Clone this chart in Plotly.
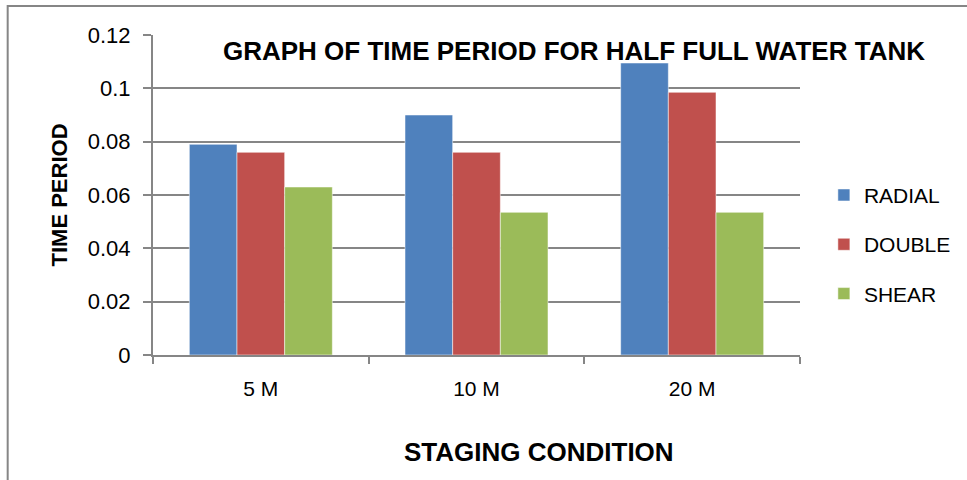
import plotly.graph_objects as go

categories = ["5 M", "10 M", "20 M"]
radial = [0.079, 0.090, 0.1095]
double = [0.076, 0.076, 0.0985]
shear = [0.063, 0.0535, 0.0535]

y_ticks = [0, 0.02, 0.04, 0.06, 0.08, 0.1, 0.12]
y_tick_text = ["0", "0.02", "0.04", "0.06", "0.08", "0.1", "0.12"]

FONT = "Liberation Sans, Arial, sans-serif"

fig = go.Figure()
for name, vals, color in [
    ("RADIAL", radial, "#4F81BD"),
    ("DOUBLE", double, "#C0504D"),
    ("SHEAR", shear, "#9BBB59"),
]:
    fig.add_trace(go.Bar(
        x=categories, y=vals, name=name, legendgroup=name,
        marker=dict(color=color, line=dict(color="rgba(255,255,255,0.5)", width=1)),
    ))

fig.update_layout(
    width=967, height=480,
    margin=dict(l=153, r=167, t=35, b=125, autoexpand=False),
    paper_bgcolor="white", plot_bgcolor="white",
    barmode="group", bargap=0.337, bargroupgap=0,
    font=dict(family=FONT, color="#000000", size=20),
    showlegend=True,
    legend=dict(
        xref="container", yref="container",
        x=0.852, y=0.491, xanchor="left", yanchor="middle",
        font=dict(family=FONT, size=21),
        itemwidth=30, tracegroupgap=19,
        bgcolor="rgba(0,0,0,0)",
    ),
    xaxis=dict(
        automargin=False,
        showline=True, linecolor="#868686", linewidth=2,
        ticks="outside", ticklen=7, tickcolor="#868686", tickwidth=2,
        tickson="boundaries", ticklabelstandoff=14,
        tickfont=dict(family=FONT, size=21),
    ),
    yaxis=dict(
        automargin=False,
        range=[0, 0.12], tickvals=y_ticks, ticktext=y_tick_text,
        showline=True, linecolor="#868686", linewidth=2,
        ticks="outside", ticklen=8, tickcolor="#868686", tickwidth=2,
        showgrid=True, gridcolor="#868686", gridwidth=2,
        zeroline=False, ticklabelstandoff=8,
        tickfont=dict(family=FONT, size=22),
        title=dict(text="<b>TIME PERIOD</b>", standoff=14,
                   font=dict(family=FONT, size=22)),
    ),
    annotations=[
        dict(
            text="<b>GRAPH OF TIME PERIOD FOR HALF FULL WATER TANK</b>",
            xref="paper", yref="paper", x=0.651, y=0.95,
            xanchor="center", yanchor="middle", showarrow=False,
            font=dict(family=FONT, size=26, color="#000000"),
        ),
        dict(
            text="<b>STAGING CONDITION</b>",
            xref="paper", yref="paper", x=0.597, y=-0.303,
            xanchor="center", yanchor="middle", showarrow=False,
            font=dict(family=FONT, size=26, color="#000000"),
        ),
    ],
    shapes=[dict(
        type="rect", xref="paper", yref="paper",
        x0=-0.2246, x1=1.3, y0=-0.5, y1=1.091,
        line=dict(color="#868686", width=2), fillcolor="rgba(0,0,0,0)",
        layer="below",
    )],
)

fig.write_html("out.html")
